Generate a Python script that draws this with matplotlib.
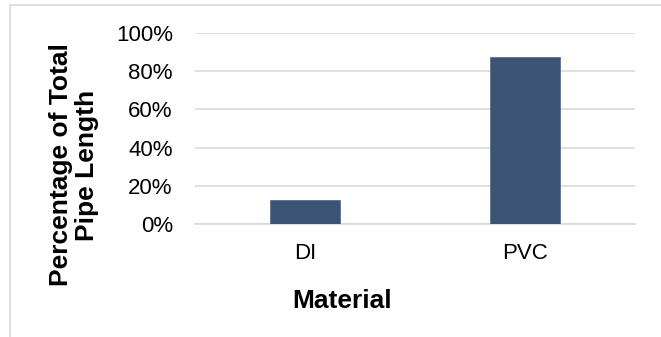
import matplotlib
matplotlib.use("Agg")
import matplotlib.pyplot as plt
from matplotlib.patches import Rectangle
from matplotlib.ticker import FuncFormatter

categories = ["DI", "PVC"]
values = [0.125, 0.875]
y_ticks = [0, 0.2, 0.4, 0.6, 0.8, 1.0]

plt.rcParams['font.family'] = ['Liberation Sans', 'DejaVu Sans']

W, H = 661, 337
fig = plt.figure(figsize=(W / 100, H / 100), dpi=100)
fig.patch.set_facecolor('white')

# outer frame
fig.patches.append(Rectangle((10 / W, -0.1), 1.2, 1 - 5 / H + 0.1, transform=fig.transFigure,
                             fill=False, edgecolor='#D9D9D9', linewidth=1.2))

ax = fig.add_axes([195 / W, 1 - 224 / H, 440 / W, (224 - 33) / H])
x = list(range(len(categories)))
ax.bar(x, values, width=0.314, color='#3B5475', edgecolor='#5A7090', linewidth=0.6, zorder=3)
ax.set_xlim(-0.5, len(categories) - 0.5)
ax.set_ylim(0, 1.0)
ax.set_yticks(y_ticks)
ax.yaxis.set_major_formatter(FuncFormatter(lambda v, p: f"{v*100:.0f}%"))
ax.set_xticks(x)
ax.set_xticklabels(categories)
ax.grid(axis='y', color='#D9D9D9', linewidth=1.2, zorder=0)
for s in ['top', 'right', 'left']:
    ax.spines[s].set_visible(False)
ax.spines['bottom'].set_color('#D9D9D9')
ax.spines['bottom'].set_linewidth(1.2)
ax.tick_params(axis='both', length=0, labelsize=16, labelcolor='black')
ax.tick_params(axis='y', pad=16)
ax.tick_params(axis='x', pad=14)

fig.text(74 / W, 1 - 165 / H, "Percentage of Total\nPipe Length", rotation=90,
         ha='center', va='center', fontsize=19, fontweight='bold', linespacing=1.12)
fig.text(342 / W, 1 - 301 / H, "Material", ha='center', va='center',
         fontsize=19, fontweight='bold')

fig.savefig("out.png", dpi=100)
